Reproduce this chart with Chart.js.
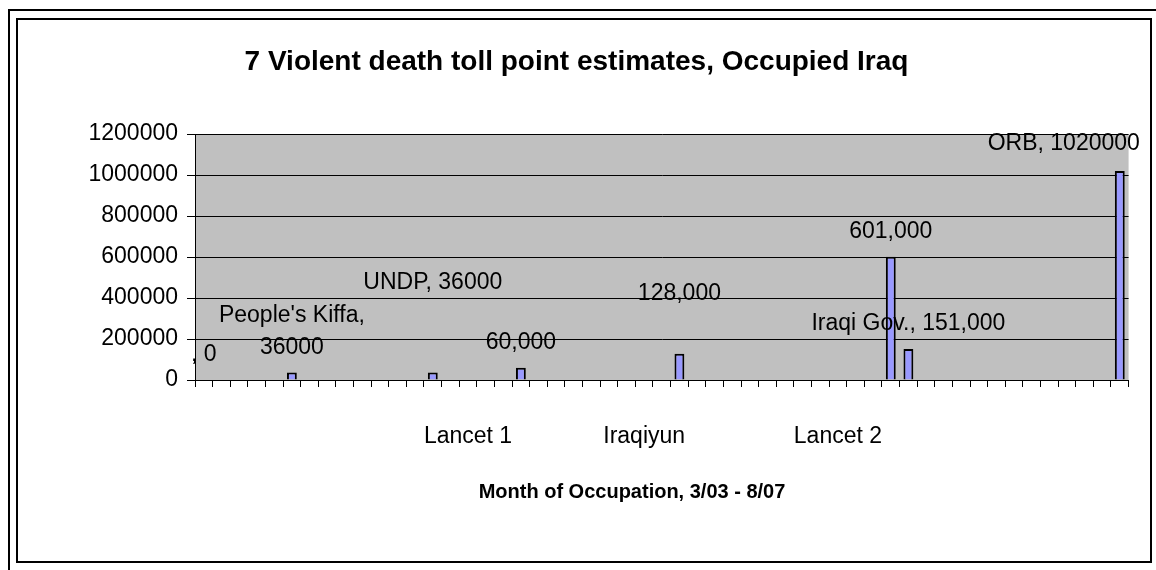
<!DOCTYPE html>
<html>
<head>
<meta charset="utf-8">
<script src="https://cdn.jsdelivr.net/npm/chart.js@4.4.1/dist/chart.umd.min.js"></script>
<style>
  html, body { margin: 0; padding: 0; background: #fff; }
  #wrap { position: relative; width: 1156px; height: 570px; overflow: hidden; }
  .outer { position: absolute; left: 8px; top: 9px; width: 1300px; height: 700px;
           border-left: 2px solid #000; border-top: 2px solid #000; }
  .inner { position: absolute; left: 16px; top: 18px; width: 1136px; height: 545px; box-sizing: border-box;
           border: 2px solid #000; }
  #chart { position: absolute; left: 0; top: 0; }
</style>
</head>
<body>
<div id="wrap">
  <div class="outer"></div>
  <div class="inner"></div>
  <canvas id="chart" width="1156" height="570"></canvas>
</div>
<script>
// 53 months of occupation (3/03 onwards); only three carry a text label
const monthCount = 53;
const namedMonths = [15, 25, 36];
const namedMonthLabels = ["Lancet 1", "Iraqiyun", "Lancet 2"];

// the seven estimates: month index, value, data label
const estimateMonth = [0, 5, 13, 18, 27, 39, 40, 52];
const estimateValue = [0, 36000, 36000, 60000, 128000, 601000, 151000, 1020000];
const estimateLabel = [", 0", ["People's Kiffa,", "36000"], "UNDP, 36000", "60,000", "128,000",
                       "601,000", "Iraqi Gov., 151,000", "ORB, 1020000"];

const yTicks = [0, 200000, 400000, 600000, 800000, 1000000, 1200000];

// build the category list and the sparse series
const months = [];
const deaths = [];
for (let i = 0; i < monthCount; i++) {
  const n = namedMonths.indexOf(i);
  months.push(n >= 0 ? namedMonthLabels[n] : "");
  const e = estimateMonth.indexOf(i);
  deaths.push(e >= 0 ? estimateValue[e] : null);
}

Chart.defaults.font.family = "'Liberation Sans', Arial, sans-serif";
Chart.defaults.color = "#000";

// gray plot area like the Excel original
const plotBackground = {
  id: "plotBackground",
  beforeDraw(chart) {
    const {ctx, chartArea: a} = chart;
    ctx.save();
    ctx.fillStyle = "#C0C0C0";
    ctx.fillRect(a.left, a.top, a.right - a.left, a.bottom - a.top);
    ctx.restore();
  }
};

// data labels; a few were dragged around by hand in the original
const labelNudge = { 13: [0, -90], 27: [0, -60], 52: [-56, -27] };
const barLabels = {
  id: "barLabels",
  afterDatasetsDraw(chart) {
    const {ctx} = chart;
    const meta = chart.getDatasetMeta(0);
    ctx.save();
    ctx.font = "23px 'Liberation Sans', Arial, sans-serif";
    ctx.fillStyle = "#000";
    ctx.textAlign = "center";
    ctx.textBaseline = "middle";
    estimateMonth.forEach((m, k) => {
      const bar = meta.data[m];
      const [dx, dy] = labelNudge[m] || [0, -25];
      const lines = [].concat(estimateLabel[k]);
      lines.forEach((line, j) => {
        const fromBottom = lines.length - 1 - j;
        ctx.fillText(line, bar.x + dx, bar.y + dy - fromBottom * 32);
      });
    });
    ctx.restore();
  }
};

// axis caption, sits left of the plot centre in the original
const axisCaption = {
  id: "axisCaption",
  afterDraw(chart) {
    const {ctx} = chart;
    ctx.save();
    ctx.font = "bold 20px 'Liberation Sans', Arial, sans-serif";
    ctx.fillStyle = "#000";
    ctx.textAlign = "center";
    ctx.textBaseline = "middle";
    ctx.fillText("Month of Occupation, 3/03 - 8/07", 632, 492);
    ctx.restore();
  }
};

new Chart(document.getElementById("chart"), {
  type: "bar",
  data: {
    labels: months,
    datasets: [{
      data: deaths,
      backgroundColor: "#9999FF",
      borderColor: "#000",
      borderWidth: 2,
      barPercentage: 0.56,
      categoryPercentage: 1
    }]
  },
  options: {
    responsive: false,
    animation: false,
    layout: { padding: { left: 20, right: 23, top: 20, bottom: 20 } },
    plugins: {
      legend: { display: false },
      tooltip: { enabled: false },
      title: {
        display: true,
        text: "7 Violent death toll point estimates, Occupied Iraq",
        font: { size: 28, weight: "bold" },
        color: "#000",
        padding: { top: 25, bottom: 55.4 }
      }
    },
    scales: {
      x: {
        grid: { offset: true, drawOnChartArea: false, drawTicks: true, tickLength: 7, color: "#000" },
        border: { color: "#000", width: 1 },
        ticks: { autoSkip: false, maxRotation: 0, padding: 36, font: { size: 23 }, color: "#000" },
        afterFit(scale) { scale.height = 170; }
      },
      y: {
        min: 0,
        max: 1200000,
        afterBuildTicks(scale) { scale.ticks = yTicks.map(v => ({ value: v })); },
        grid: { color: "#000", tickLength: 8 },
        border: { color: "#000", width: 1 },
        ticks: { padding: 9, font: { size: 23 }, color: "#000", callback: v => String(v) },
        afterFit(scale) { scale.width = 175; }
      }
    }
  },
  plugins: [plotBackground, barLabels, axisCaption]
});
</script>
</body>
</html>
